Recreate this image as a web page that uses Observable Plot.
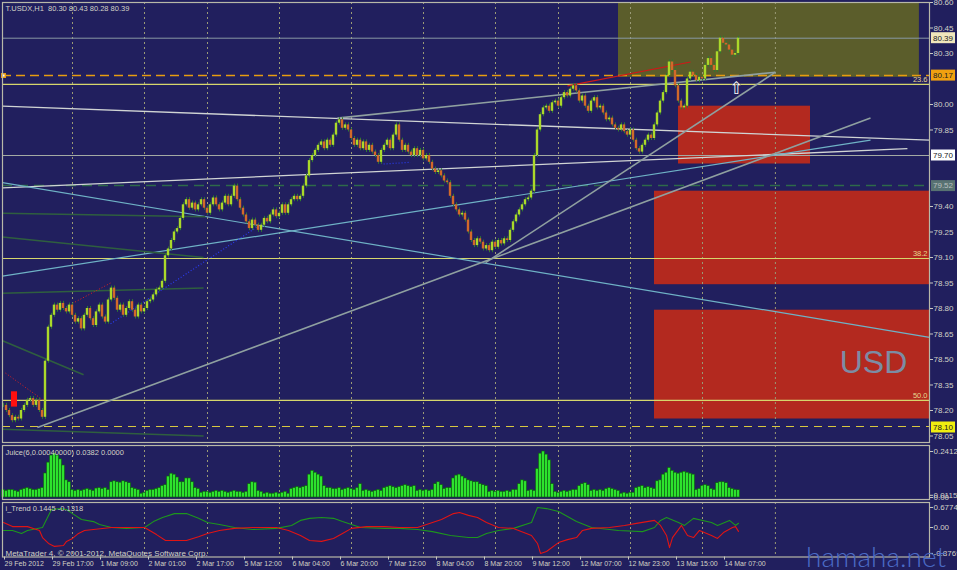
<!DOCTYPE html>
<html><head><meta charset="utf-8">
<script src="https://cdn.jsdelivr.net/npm/d3@7"></script>
<script src="https://cdn.jsdelivr.net/npm/@observablehq/plot@0.6"></script>
<style>
html,body{margin:0;padding:0;background:#211f5e;}
#wrap{position:relative;width:957px;height:570px;background:#211f5e;overflow:hidden;}
#wrap svg{position:absolute;left:0;display:block;overflow:visible;}
#wm{position:absolute;left:806px;top:542px;font-family:Lato,"Open Sans",sans-serif;font-weight:300;font-size:28px;line-height:28px;color:#4b6bc6;white-space:nowrap;}
</style></head><body><div id="wrap"></div>
<script>
// ---------- DATA ----------
const title = "T.USDX,H1  80.30 80.43 80.28 80.39";
const juiceLabel = "Juice(6,0.00040000) 0.0382 0.0000";
const trendLabel = "i_Trend 0.1445 -0.1318";
const copyright = "MetaTrader 4, © 2001-2012, MetaQuotes Software Corp.";
const watermark = "hamaha.net";

// hourly closes (bar index 0..245)
const closes = [78.23,78.20,78.17,78.14,78.16,78.15,78.20,78.23,78.26,78.27,78.23,78.26,78.20,78.16,
78.49,78.69,78.76,78.82,78.79,78.83,78.80,78.78,78.82,78.76,78.72,78.74,78.68,78.76,78.80,78.74,78.70,78.78,78.82,78.75,78.72,78.85,78.92,78.86,78.79,78.82,78.76,78.80,78.84,78.79,78.75,78.82,78.78,78.80,
78.84,78.85,78.88,78.91,78.92,78.96,79.11,79.15,79.20,79.25,79.27,79.33,79.41,79.44,
79.39,79.42,79.38,79.41,79.44,79.39,79.36,79.41,79.45,79.41,79.38,79.42,79.46,79.41,79.46,79.52,79.44,79.39,79.35,79.31,79.27,79.32,79.29,79.26,79.29,79.33,79.31,79.35,79.38,79.34,79.36,79.41,79.36,79.41,79.44,79.46,79.44,79.46,
79.52,79.58,79.67,79.70,79.73,79.76,79.78,79.74,79.79,79.76,79.82,79.89,79.91,79.86,79.88,79.85,79.80,79.76,79.79,79.74,79.78,79.73,79.76,79.72,79.70,79.66,79.73,79.76,79.79,79.74,79.82,79.88,79.79,79.73,79.76,79.72,79.70,79.74,79.70,79.73,79.68,79.70,79.66,79.62,79.60,79.61,79.58,79.55,
79.54,79.46,79.41,79.38,79.35,79.36,79.32,79.25,79.20,79.17,79.21,79.19,79.15,79.17,79.14,79.19,79.16,79.20,79.18,79.21,79.20,79.26,79.31,79.35,79.38,79.41,79.44,79.45,79.49,
79.70,79.85,79.94,79.98,79.99,79.96,80.01,80.02,79.99,80.04,80.07,80.05,80.09,80.11,80.08,80.02,80.05,79.99,79.96,80.02,80.04,79.98,79.99,79.95,79.91,79.92,79.88,79.86,79.85,79.88,79.84,79.82,79.85,79.79,79.74,79.72,79.76,79.79,79.82,79.80,
79.88,79.95,80.02,80.07,80.17,80.25,80.20,80.11,80.02,79.98,79.99,80.15,80.19,80.17,80.14,80.16,80.15,80.23,80.27,80.23,80.20,80.31,80.39,80.36,80.35,80.32,80.29,80.30,80.39];

// Juice histogram values per bar
const juice = [0.040,0.035,0.040,0.040,0.035,0.030,0.040,0.045,0.050,0.045,0.040,0.040,0.045,0.050,
0.126,0.183,0.220,0.230,0.220,0.200,0.168,0.090,0.080,
0.040,0.035,0.040,0.035,0.040,0.045,0.040,0.035,
0.047,0.050,0.045,0.050,0.040,
0.080,0.085,0.080,0.078,0.085,0.080,0.075,
0.050,0.045,0.040,
0.020,0.025,
0.035,0.040,0.040,0.045,0.050,
0.060,0.065,
0.110,0.125,0.120,0.105,0.080,0.080,0.100,0.100,0.080,
0.050,0.045,
0.025,0.030,0.030,0.025,0.030,0.035,0.030,0.035,0.030,0.025,0.030,0.035,0.030,0.030,0.025,0.030,
0.070,0.080,0.078,
0.035,0.030,
0.020,0.025,0.020,0.020,0.025,0.020,0.025,0.030,0.020,
0.045,0.050,0.055,0.050,0.055,0.060,
0.120,0.140,0.130,0.120,0.110,
0.060,0.050,0.050,0.045,
0.045,0.050,0.040,0.045,0.050,0.045,0.040,0.050,
0.070,
0.035,0.040,0.035,0.030,0.035,0.040,0.035,
0.050,0.055,0.060,0.055,0.050,0.055,
0.060,0.065,0.060,0.055,0.060,
0.035,0.040,0.035,0.040,0.035,0.040,
0.070,0.080,0.065,
0.045,0.050,0.050,
0.100,0.115,0.120,0.110,0.100,
0.090,0.085,0.080,0.080,
0.070,0.065,0.060,
0.030,0.035,0.030,0.035,0.030,0.030,0.035,0.030,0.040,0.040,
0.070,0.090,0.085,
0.035,0.040,0.035,
0.150,0.230,0.2412,0.225,0.195,0.070,
0.030,0.025,0.030,0.035,0.030,0.035,0.040,0.040,
0.060,0.070,0.075,0.065,
0.035,0.040,0.035,0.040,0.035,0.045,0.050,0.045,0.040,0.035,
0.020,0.025,0.020,0.025,0.025,
0.050,0.055,0.060,0.050,0.055,0.050,0.045,
0.085,0.090,
0.120,0.130,0.155,
0.140,0.130,0.125,0.130,0.135,0.130,0.125,0.120,
0.040,0.045,
0.060,0.065,0.060,
0.045,0.040,
0.075,0.080,0.080,0.075,
0.050,0.045,0.040,0.0382];

// i_Trend lines (sampled at bar indices)
const greenBars = [0,3,6,8,13,15,16,19,21,23,26,30,32,36,41,47,50,53,57,61,65,68,72,77,83,91,96,99,102,106,110,113,116,119,127,132,138,143,149,155,158,161,165,170,176,178,181,185,188,191,196,205,213,217,219,221,225,227,230,236,238,242,244,245];
const greenVals = [-0.10,-0.10,-0.20,-0.10,0.0,0.41,0.61,0.64,0.61,0.47,0.27,0.20,0.10,0.0,-0.03,0.0,0.20,0.34,0.47,0.47,0.31,0.17,0.10,0.0,-0.07,-0.03,0.07,0.24,0.31,0.34,0.31,0.20,0.10,0.0,-0.03,-0.03,-0.07,-0.14,-0.27,-0.34,-0.34,-0.20,-0.10,-0.03,0.17,0.6774,0.64,0.54,0.37,0.20,0.0,-0.10,-0.14,0.0,0.24,0.34,0.17,0.07,0.31,0.17,0.07,0.24,0.07,0.1445];
const redBars = [0,3,8,12,13,15,17,20,21,23,25,27,30,36,41,47,51,54,57,61,65,68,72,77,83,91,95,99,102,106,110,113,116,121,127,132,138,141,146,150,152,155,158,161,165,170,176,178,179,181,185,188,191,193,196,202,207,211,217,219,221,222,223,226,228,230,232,236,238,240,243,244,245];
const redVals = [0.17,0.03,0.03,-0.10,-0.34,-0.54,-0.64,-0.61,-0.47,-0.37,-0.20,-0.10,-0.07,0.0,0.0,0.0,-0.24,-0.44,-0.44,-0.44,-0.31,-0.20,-0.10,-0.03,0.0,0.0,-0.10,-0.27,-0.44,-0.47,-0.37,-0.20,-0.03,0.03,0.03,0.0,0.0,0.10,0.27,0.47,0.51,0.41,0.34,0.17,0.0,-0.03,-0.27,-0.54,-0.8769,-0.81,-0.51,-0.41,-0.34,-0.10,-0.03,0.0,0.07,0.14,0.24,0.07,-0.27,-0.68,-0.34,0.07,-0.27,-0.34,-0.10,-0.27,-0.37,-0.17,0.0,0.03,-0.1318];

// time axis
const xTickBars = [0,16,32,48,64,80,96,112,128,144,160,176,192,208,224,240];
const xTickLabels = ["29 Feb 2012","29 Feb 17:00","1 Mar 09:00","2 Mar 01:00","2 Mar 17:00","5 Mar 12:00","6 Mar 04:00","6 Mar 20:00","7 Mar 12:00","8 Mar 04:00","8 Mar 20:00","9 Mar 12:00","12 Mar 07:00","12 Mar 23:00","13 Mar 15:00","14 Mar 07:00"];
const dayBars = [23,47,68,92,116,140,164,185,209,233,257.3];

// price axis
const priceTicks = [80.60,80.45,80.30,80.00,79.85,79.40,79.25,79.10,78.95,78.80,78.65,78.50,78.35,78.20,78.05];
const tagPrices = [80.39,80.17,79.70,79.52,78.10];
const juiceTicks = [0.2412,0.0115,0];
const juiceTickLabels = ["0.2412","0.0115","0.00"];
const trendTicks = [0.6774,0,-0.8769];
const trendTickLabels = ["0.6774","0.00","-0.8769"];

// zones: [kind, barFrom, barTo, priceLow, priceHigh]
const zones = [["olive",205,305.3,80.16,80.60],["red",225,269,79.65,79.99],["red",217,308.67,78.94,79.49],["red",217,308.67,78.15,78.79],["mark",2.67,4.67,78.22,78.31]];
// horizontal levels: [kind, price]
const levels = [["grey",80.39],["orange",80.17],["fib",80.118],["grey2",79.70],["green",79.524],["fib",79.094],["fib",78.259],["yellow",78.106]];
const fibLabels = ["23.6","38.2","50.0"];
const fibPrices = [80.118,79.094,78.259];
// trend lines: [kind, bar1, price1, bar2, price2]
const trendLines = [
 ["white",-0.33,79.99,308.67,79.79],
 ["white",-0.33,79.51,301.3,79.74],
 ["cyan",-0.33,79.54,308.67,78.63],
 ["cyan",-0.33,78.99,289,79.79],
 ["grey",11.3,78.10,289,79.92],
 ["grey",160.7,79.07,257.3,80.19],
 ["grey",111.3,79.92,257.3,80.19],
 ["red",188,80.11,229,80.25],
 ["dkgreen",-0.33,79.36,67.3,79.34],
 ["dkgreen",-0.33,79.22,66.7,79.10],
 ["dkgreen",-0.33,78.89,66.7,78.92],
 ["dkgreen",-0.33,78.61,26.7,78.41],
 ["dkgreen",-0.33,78.09,66.7,78.05],
 ["reddot",0.67,78.42,13.3,78.26],
 ["reddot",23,78.83,35.7,78.95],
 ["bluedot",35.7,78.71,88,79.32],
 ["bluedot",126.7,79.65,135.7,79.66]
];
const usdLabel = {text:"USD", bar:290, price:78.48};
const arrow = {text:"⇧", bar:244.3, price:80.094};

// ---------- STYLES ----------
const FONT = "Liberation Sans, Arial, sans-serif";
const TXT = "#d2d2c6";
const FRAME = "#b8b8a8";
const GRID = "#9a9a76";
const zoneFill = {olive:"#5b5d2b", red:"#b3291f", mark:"#ff1010"};
const levelStyle = {
  grey:{stroke:"#8898a4",w:1,dash:null}, orange:{stroke:"#e89c10",w:1.5,dash:"9,5"},
  fib:{stroke:"#d6d66c",w:1.2,dash:null}, grey2:{stroke:"#a4aaa4",w:1.2,dash:null},
  green:{stroke:"#2e6a4a",w:1.5,dash:"10,6"}, yellow:{stroke:"#d8c840",w:1.2,dash:"8,6"}
};
const lineStyle = {
  white:{stroke:"#d0d4d4",w:1.3,dash:null}, cyan:{stroke:"#6fb2c6",w:1.2,dash:null},
  grey:{stroke:"#8fa0a0",w:1.6,dash:null}, red:{stroke:"#d01818",w:1.2,dash:null},
  dkgreen:{stroke:"#2f5f3f",w:1.5,dash:null}, reddot:{stroke:"#e02020",w:1,dash:"1,2"},
  bluedot:{stroke:"#2a3cf0",w:1.2,dash:"1,2"}
};
const tagBg = ["#efe6bc","#f0a010","#ffffff","#587272","#f0ee10"];
const tagFg = ["#202020","#202020","#202020","#b8c0c0","#202020"];

// ---------- DERIVED ----------
const W = 957, ML = 2, MR = 28;
const xDomain = [-1/3, 926/3];
const candles = closes.map((c, i) => {
  const o = i === 0 ? c : closes[i - 1];
  return {i, o, c, lo: Math.min(o, c) - 0.012, hi: Math.max(o, c) + 0.012};
});
const bull = candles.filter(d => d.c >= d.o), bear = candles.filter(d => d.c < d.o);
const juiceData = juice.map((v, i) => ({i, v}));
const greenData = greenBars.map((b, k) => ({i: b, v: greenVals[k]}));
const redData = redBars.map((b, k) => ({i: b, v: redVals[k]}));
const zoneData = zones.map(([kind, a, b, lo, hi]) => ({kind, a, b, lo, hi}));
const levelData = levels.map(([kind, p]) => ({kind, p}));
const lineData = trendLines.map(([kind, a, p1, b, p2]) => ({kind, a, p1, b, p2}));
const baseStyle = {background:"transparent", overflow:"visible", color:TXT, fontFamily:FONT, fontSize:"8px"};

function levelMarks() {
  return Object.keys(levelStyle).map(k => {
    const s = levelStyle[k];
    return Plot.ruleY(levelData.filter(d => d.kind === k), {y:"p", stroke:s.stroke, strokeWidth:s.w, strokeDasharray:s.dash});
  });
}
function lineMarks() {
  return Object.keys(lineStyle).map(k => {
    const s = lineStyle[k];
    return Plot.link(lineData.filter(d => d.kind === k), {x1:"a", y1:"p1", x2:"b", y2:"p2", stroke:s.stroke, strokeWidth:s.w, strokeDasharray:s.dash});
  });
}
const tagMark = (index, scales, values, dimensions) => {
  const g = d3.create("svg:g").attr("text-anchor", "start");
  const x0 = dimensions.width - dimensions.marginRight + 2;
  tagPrices.forEach((p, k) => {
    const y = scales.y(p);
    g.append("rect").attr("x", x0).attr("y", y - 5.5).attr("width", 24).attr("height", 11).attr("fill", tagBg[k]);
    g.append("text").attr("x", x0 + 2).attr("y", y).attr("dy", "0.35em").attr("text-anchor", "start")
      .attr("fill", tagFg[k]).attr("font-size", 8).attr("font-family", FONT).text(p.toFixed(2));
  });
  return g.node();
};

// ---------- MAIN PANEL ----------
const main = Plot.plot({
  width: W, height: 443, marginLeft: ML, marginRight: MR, marginTop: 2, marginBottom: 1,
  x: {domain: xDomain, axis: null, label: null},
  y: {domain: [80.60 - 440/170, 80.60], axis: null, label: null},
  style: baseStyle,
  marks: [
    Plot.rect(zoneData.filter(d => d.kind === "olive"), {x1:"a", x2:"b", y1:"lo", y2:"hi", fill:zoneFill.olive}),
    Plot.rect(zoneData.filter(d => d.kind === "red"), {x1:"a", x2:"b", y1:"lo", y2:"hi", fill:zoneFill.red}),
    Plot.text([usdLabel], {x:"bar", y:"price", text:"text", fill:"#7c8ca4", fontSize:32, fontFamily:FONT, textAnchor:"middle"}),
    Plot.ruleX(dayBars, {stroke:GRID, strokeDasharray:"2,3"}),
    ...levelMarks(),
    ...lineMarks(),
    Plot.rect(zoneData.filter(d => d.kind === "mark"), {x1:"a", x2:"b", y1:"lo", y2:"hi", fill:zoneFill.mark}),
    Plot.ruleX(candles, {x:"i", y1:"lo", y2:"hi", stroke:"#2f7a30", strokeWidth:1}),
    Plot.rect(bull, {x1:d => d.i - 0.4, x2:d => d.i + 0.4, y1:"o", y2:"c", fill:"#abd92a"}),
    Plot.rect(bear, {x1:d => d.i - 0.4, x2:d => d.i + 0.4, y1:"o", y2:"c", fill:"#d2692a"}),
    Plot.text(fibLabels, {y:(d, k) => fibPrices[k], text:d => d, frameAnchor:"right", dx:-2, dy:-5, textAnchor:"end", fill:"#e6d890", fontSize:7.5}),
    Plot.text([arrow], {x:"bar", y:"price", text:"text", fill:"#ffffff", fontSize:17, fontFamily:"DejaVu Sans", stroke:"#1a1a40", strokeWidth:0.5}),
    Plot.dot([tagPrices[1]], {x:() => 0, y:d => d, symbol:"square", r:2, fill:"#ffffff", stroke:"#e89c10"}),
    Plot.text([title], {frameAnchor:"top-left", dx:3, dy:3, lineAnchor:"top", textAnchor:"start", fill:TXT, fontSize:7.5}),
    Plot.frame({stroke:FRAME, strokeWidth:1.2}),
    Plot.axisY({anchor:"right", label:null, ticks:priceTicks, tickFormat:d3.format(".2f"), tickSize:3, tickPadding:1, stroke:"#c8c8c0", fill:TXT, fontSize:8}),
    tagMark
  ]
});

// ---------- JUICE PANEL ----------
const juicePlot = Plot.plot({
  width: W, height: 57, marginLeft: ML, marginRight: MR, marginTop: 2, marginBottom: 1,
  x: {domain: xDomain, axis: null, label: null},
  y: {domain: [-0.0105, 0.2727], axis: null, label: null},
  style: baseStyle,
  marks: [
    Plot.ruleX(dayBars, {stroke:GRID, strokeDasharray:"2,3"}),
    Plot.rect(juiceData, {x1:d => d.i - 0.5, x2:d => d.i + 0.5, y1:() => 0, y2:"v", fill:"#2de22d", stroke:"#0d5a12", strokeWidth:0.6}),
    Plot.text([juiceLabel], {frameAnchor:"top-left", dx:3, dy:4, lineAnchor:"top", textAnchor:"start", fill:TXT, fontSize:7.5}),
    Plot.frame({stroke:FRAME, strokeWidth:1.2}),
    Plot.axisY({anchor:"right", label:null, ticks:juiceTicks, tickFormat:d => juiceTickLabels[juiceTicks.indexOf(d)], tickSize:3, tickPadding:1, stroke:"#c8c8c0", fill:TXT, fontSize:8})
  ]
});

// ---------- I_TREND PANEL ----------
const trendPlot = Plot.plot({
  width: W, height: 70, marginLeft: ML, marginRight: MR, marginTop: 2, marginBottom: 13.5,
  x: {domain: xDomain, axis: null, label: null},
  y: {domain: [-0.998, 0.846], axis: null, label: null},
  style: baseStyle,
  marks: [
    Plot.ruleX(dayBars, {stroke:GRID, strokeDasharray:"2,3"}),
    Plot.line(greenData, {x:"i", y:"v", stroke:"#1d961d", strokeWidth:1.1}),
    Plot.line(redData, {x:"i", y:"v", stroke:"#e01414", strokeWidth:1.1}),
    Plot.text([trendLabel], {frameAnchor:"top-left", dx:3, dy:3, lineAnchor:"top", textAnchor:"start", fill:TXT, fontSize:7.5}),
    Plot.text([copyright], {frameAnchor:"bottom-left", dx:3, dy:-1.5, lineAnchor:"bottom", textAnchor:"start", fill:TXT, fontSize:8}),
    Plot.frame({stroke:FRAME, strokeWidth:1.2}),
    Plot.axisY({anchor:"right", label:null, ticks:trendTicks, tickFormat:d => trendTickLabels[trendTicks.indexOf(d)], tickSize:3, tickPadding:1, stroke:"#c8c8c0", fill:TXT, fontSize:8}),
    Plot.axisX({anchor:"bottom", label:null, ticks:xTickBars, tickFormat:d => xTickLabels[xTickBars.indexOf(d)], tickSize:3, tickPadding:1, textAnchor:"start", dx:1, stroke:"#c8c8c0", fill:TXT, fontSize:7})
  ]
});

const wrap = document.getElementById("wrap");
main.style.top = "0px"; juicePlot.style.top = "443px"; trendPlot.style.top = "500px";
wrap.append(main, juicePlot, trendPlot);
const wm = document.createElement("div");
wm.id = "wm"; wm.textContent = watermark;
wrap.append(wm);
</script></body></html>
